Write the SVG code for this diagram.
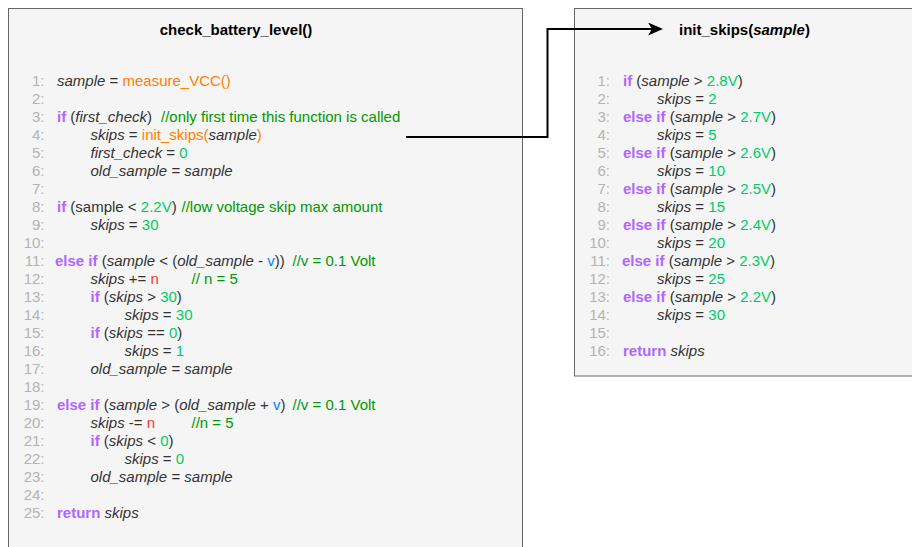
<svg xmlns="http://www.w3.org/2000/svg" width="912" height="547" viewBox="0 0 912 547">
<style>
text{font-family:"Liberation Sans",Arial,Helvetica,sans-serif;font-size:15px;fill:#333333}
.box{fill:#F5F5F5;stroke:#666666;stroke-width:1}
.title{font-weight:bold;fill:#000000}
.ln{fill:#B3B3B3;text-anchor:end}
.kw{fill:#B266FF;font-weight:bold}
.or{fill:#FF8000}
.cm{fill:#009900}
.nm{fill:#00CC66}
.bl{fill:#007FFF}
.rd{fill:#FF3333}
.it{font-style:italic}
.conn{fill:none;stroke:#000000;stroke-width:2}
</style>
<defs>
<marker id="arrow" markerUnits="userSpaceOnUse" markerWidth="15" markerHeight="13" viewBox="0 0 15 13" refX="4" refY="6.5" orient="auto">
<path d="M0,0 L15,6.5 L0,13 L4,6.5 Z" fill="#000000"/>
</marker>
</defs>
<rect width="912" height="547" fill="#FFFFFF"/>
<g id="check_battery_level">
<rect class="box" x="8.5" y="8.5" width="514" height="560"/>
<text class="title" x="236" y="35" text-anchor="middle">check_battery_level()</text>
<text class="ln" x="44.5" y="86">1:</text>
<text class="ln" x="44.5" y="104">2:</text>
<text class="ln" x="44.5" y="122">3:</text>
<text class="ln" x="44.5" y="140">4:</text>
<text class="ln" x="44.5" y="158">5:</text>
<text class="ln" x="44.5" y="176">6:</text>
<text class="ln" x="44.5" y="194">7:</text>
<text class="ln" x="44.5" y="212">8:</text>
<text class="ln" x="44.5" y="230">9:</text>
<text class="ln" x="44.5" y="248">10:</text>
<text class="ln" x="44.5" y="266">11:</text>
<text class="ln" x="44.5" y="284">12:</text>
<text class="ln" x="44.5" y="302">13:</text>
<text class="ln" x="44.5" y="320">14:</text>
<text class="ln" x="44.5" y="338">15:</text>
<text class="ln" x="44.5" y="356">16:</text>
<text class="ln" x="44.5" y="374">17:</text>
<text class="ln" x="44.5" y="392">18:</text>
<text class="ln" x="44.5" y="410">19:</text>
<text class="ln" x="44.5" y="428">20:</text>
<text class="ln" x="44.5" y="446">21:</text>
<text class="ln" x="44.5" y="464">22:</text>
<text class="ln" x="44.5" y="482">23:</text>
<text class="ln" x="44.5" y="500">24:</text>
<text class="ln" x="44.5" y="518">25:</text>
<text x="57" y="86"><tspan class="it">sample</tspan> = <tspan class="or">measure_VCC()</tspan></text>
<text x="57" y="122"><tspan class="kw">if</tspan> (<tspan class="it">first_check</tspan>)<tspan class="cm" x="161">//only first time this function is called</tspan></text>
<text x="90.5" y="140"><tspan class="it">skips</tspan> = <tspan class="or">init_skips(</tspan><tspan class="it">sample</tspan><tspan class="or">)</tspan></text>
<text x="90.5" y="158"><tspan class="it">first_check</tspan> = <tspan class="nm">0</tspan></text>
<text x="90.5" y="176"><tspan class="it">old_sample</tspan> = <tspan class="it">sample</tspan></text>
<text x="57" y="212"><tspan class="kw">if</tspan> (sample &lt; <tspan class="nm">2.2V</tspan>)<tspan class="cm" x="181.5">//low voltage skip max amount</tspan></text>
<text x="90.5" y="230"><tspan class="it">skips</tspan> = <tspan class="nm">30</tspan></text>
<text x="55" y="266"><tspan class="kw">else if</tspan> (<tspan class="it">sample</tspan> &lt; (<tspan class="it">old_sample</tspan> - <tspan class="bl">v</tspan>))<tspan class="cm" x="292.5">//v = 0.1 Volt</tspan></text>
<text x="90.5" y="284"><tspan class="it">skips</tspan> += <tspan class="rd">n</tspan><tspan class="cm" x="191.5">// n = 5</tspan></text>
<text x="90.5" y="302"><tspan class="kw">if</tspan> (<tspan class="it">skips</tspan> &gt; <tspan class="nm">30</tspan>)</text>
<text x="124.5" y="320"><tspan class="it">skips</tspan> = <tspan class="nm">30</tspan></text>
<text x="90.5" y="338"><tspan class="kw">if</tspan> (<tspan class="it">skips</tspan> == <tspan class="nm">0</tspan>)</text>
<text x="124.5" y="356"><tspan class="it">skips</tspan> = <tspan class="nm">1</tspan></text>
<text x="90.5" y="374"><tspan class="it">old_sample</tspan> = <tspan class="it">sample</tspan></text>
<text x="57" y="410"><tspan class="kw">else if</tspan> (<tspan class="it">sample</tspan> &gt; (<tspan class="it">old_sample</tspan> + <tspan class="bl">v</tspan>)<tspan class="cm" x="292.5">//v = 0.1 Volt</tspan></text>
<text x="90.5" y="428"><tspan class="it">skips</tspan> -= <tspan class="rd">n</tspan><tspan class="cm" x="191.5">//n = 5</tspan></text>
<text x="90.5" y="446"><tspan class="kw">if</tspan> (<tspan class="it">skips</tspan> &lt; <tspan class="nm">0</tspan>)</text>
<text x="124.5" y="464"><tspan class="it">skips</tspan> = <tspan class="nm">0</tspan></text>
<text x="90.5" y="482"><tspan class="it">old_sample</tspan> = <tspan class="it">sample</tspan></text>
<text x="57" y="518"><tspan class="kw">return</tspan> <tspan class="it">skips</tspan></text>
</g>
<g id="init_skips">
<rect class="box" x="574.5" y="8.5" width="360" height="367.5"/>
<text class="title" x="679" y="35">init_skips(<tspan font-style="italic">sample</tspan>)</text>
<text class="ln" x="610" y="86">1:</text>
<text class="ln" x="610" y="104">2:</text>
<text class="ln" x="610" y="122">3:</text>
<text class="ln" x="610" y="140">4:</text>
<text class="ln" x="610" y="158">5:</text>
<text class="ln" x="610" y="176">6:</text>
<text class="ln" x="610" y="194">7:</text>
<text class="ln" x="610" y="212">8:</text>
<text class="ln" x="610" y="230">9:</text>
<text class="ln" x="610" y="248">10:</text>
<text class="ln" x="610" y="266">11:</text>
<text class="ln" x="610" y="284">12:</text>
<text class="ln" x="610" y="302">13:</text>
<text class="ln" x="610" y="320">14:</text>
<text class="ln" x="610" y="338">15:</text>
<text class="ln" x="610" y="356">16:</text>
<text x="623" y="86"><tspan class="kw">if</tspan> (<tspan class="it">sample</tspan> &gt; <tspan class="nm">2.8V</tspan>)</text>
<text x="657" y="104"><tspan class="it">skips</tspan> = <tspan class="nm">2</tspan></text>
<text x="623" y="122"><tspan class="kw">else if</tspan> (<tspan class="it">sample</tspan> &gt; <tspan class="nm">2.7V</tspan>)</text>
<text x="657" y="140"><tspan class="it">skips</tspan> = <tspan class="nm">5</tspan></text>
<text x="623" y="158"><tspan class="kw">else if</tspan> (<tspan class="it">sample</tspan> &gt; <tspan class="nm">2.6V</tspan>)</text>
<text x="657" y="176"><tspan class="it">skips</tspan> = <tspan class="nm">10</tspan></text>
<text x="623" y="194"><tspan class="kw">else if</tspan> (<tspan class="it">sample</tspan> &gt; <tspan class="nm">2.5V</tspan>)</text>
<text x="657" y="212"><tspan class="it">skips</tspan> = <tspan class="nm">15</tspan></text>
<text x="623" y="230"><tspan class="kw">else if</tspan> (<tspan class="it">sample</tspan> &gt; <tspan class="nm">2.4V</tspan>)</text>
<text x="657" y="248"><tspan class="it">skips</tspan> = <tspan class="nm">20</tspan></text>
<text x="622" y="266"><tspan class="kw">else if</tspan> (<tspan class="it">sample</tspan> &gt; <tspan class="nm">2.3V</tspan>)</text>
<text x="657" y="284"><tspan class="it">skips</tspan> = <tspan class="nm">25</tspan></text>
<text x="623" y="302"><tspan class="kw">else if</tspan> (<tspan class="it">sample</tspan> &gt; <tspan class="nm">2.2V</tspan>)</text>
<text x="657" y="320"><tspan class="it">skips</tspan> = <tspan class="nm">30</tspan></text>
<text x="623" y="356"><tspan class="kw">return</tspan> <tspan class="it">skips</tspan></text>
</g>
<g id="connectors">
<path class="conn" d="M406,137 H547.5 V29 H652" marker-end="url(#arrow)"/>
</g>
</svg>
